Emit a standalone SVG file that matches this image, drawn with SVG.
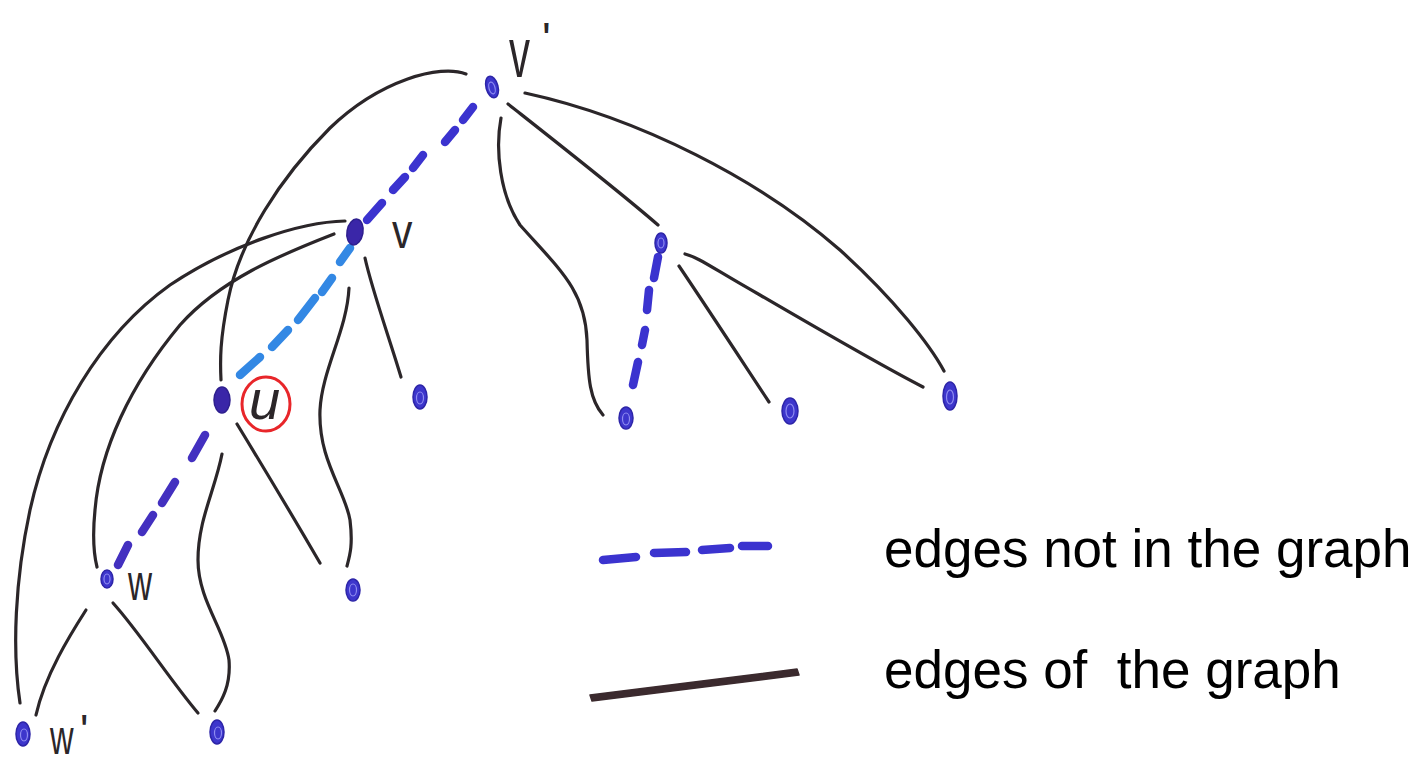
<svg xmlns="http://www.w3.org/2000/svg" width="1421" height="763" viewBox="0 0 1421 763">
<style>
.edge{fill:none;stroke:#2b2629;stroke-width:3.2;stroke-linecap:round;stroke-linejoin:round}
.dash{fill:none;stroke-width:8.5;stroke-linecap:round}
.dv{stroke:#3b33cf}
.dl{stroke:#3388e4}
.dp{stroke:#4330c0}
.node{fill:#3d36cc;stroke:#2d25a8;stroke-width:1.5}
.dark{fill:#3a26a8;stroke:#2e1f8e;stroke-width:1.5}
.ring{fill:none;stroke:#8f8cf0;stroke-width:1.2}
.lbl{fill:#2b2629;font-family:"Liberation Sans",Arial,sans-serif}
.legend{fill:#000;font-family:"Liberation Sans",Arial,sans-serif;font-size:53px;white-space:pre}
</style>
<rect width="1421" height="763" fill="#ffffff"/>

<g id="connectors">
  <!-- solid edges (edges of the graph) -->
  <path class="edge" d="M466,74 C440,64 380,80 330,128 C280,178 240,240 228,300 C220,340 220,360 221,380"/>
  <path class="edge" d="M525,93 C640,118 760,180 840,250 C895,300 930,345 944,371"/>
  <path class="edge" d="M508,104 C560,145 620,192 658,225"/>
  <path class="edge" d="M501,118 C495,150 500,195 520,225 C560,270 585,290 587,340 C588,380 590,400 603,415"/>
  <path class="edge" d="M345,221 C300,222 230,245 170,285 C100,335 50,420 30,510 C15,580 12,650 20,703"/>
  <path class="edge" d="M334,234 C280,255 220,280 180,325 C130,385 100,450 95,510 C92,540 94,555 97,567"/>
  <path class="edge" d="M349,288 C347,330 322,370 320,410 C318,460 345,490 350,520 C353,545 350,555 347,566"/>
  <path class="edge" d="M365,258 C372,290 390,340 401,377"/>
  <path class="edge" d="M237,424 C262,465 295,520 320,563"/>
  <path class="edge" d="M222,454 C215,490 198,520 198,560 C198,600 225,630 229,660 C231,685 222,700 215,711"/>
  <path class="edge" d="M86,610 C70,635 45,675 36,715"/>
  <path class="edge" d="M113,603 C140,633 170,680 198,713"/>
  <path class="edge" d="M685,254 C700,258 712,268 760,295 C820,330 880,365 923,387"/>
  <path class="edge" d="M679,266 C710,312 740,358 769,402"/>
  <!-- dashed edges (edges not in the graph) -->
  <path class="dash dv" d="M473,107 L463,120 M455,130 L445,142 M423,155 L413,168 M405,177 L393,190 M382,203 L367,220"/>
  <path class="dash dl" d="M350,248 L340,262 M332,278 L322,292 M315,298 L298,320 M288,330 L272,347 M260,357 L240,375"/>
  <path class="dash dp" d="M205,435 L192,458 M175,482 L162,503 M153,515 L142,532 M128,545 L118,565"/>
  <path class="dash dv" d="M658,257 L654,278 M649,290 L647,310 M645,330 L642,345 M638,362 L633,385"/>
</g>

<g id="node-v-prime">
  <ellipse class="node" cx="492" cy="87" rx="6" ry="11" transform="rotate(-15 492 87)"/>
  <ellipse class="ring" cx="492" cy="88" rx="3" ry="6" transform="rotate(-15 492 88)"/>
  <text class="lbl" font-size="70" transform="translate(509 77) scale(0.6 1)">v</text>
  <text class="lbl" font-size="46" x="542" y="55">'</text>
</g>
<g id="node-v">
  <ellipse class="dark" cx="355" cy="232" rx="8" ry="13" transform="rotate(10 355 232)"/>
  <text class="lbl" font-size="48" transform="translate(392 248) scale(0.85 1)">v</text>
</g>
<g id="node-u">
  <ellipse class="dark" cx="222" cy="400" rx="8" ry="13"/>
  <ellipse cx="266" cy="404" rx="24" ry="27" fill="none" stroke="#e8262a" stroke-width="3"/>
  <text class="lbl" font-family="Liberation Serif" font-style="italic" font-size="56" x="249" y="419">u</text>
</g>
<g id="node-w">
  <ellipse class="node" cx="107" cy="579" rx="6" ry="9"/>
  <ellipse class="ring" cx="107" cy="579" rx="3" ry="5"/>
  <text class="lbl" font-size="52" transform="translate(128 600) scale(0.64 1)">w</text>
</g>
<g id="node-w-prime">
  <ellipse class="node" cx="23" cy="734" rx="7" ry="12"/>
  <ellipse class="ring" cx="24" cy="735" rx="3.5" ry="6"/>
  <text class="lbl" font-size="48" transform="translate(50 754) scale(0.68 1)">w</text>
  <text class="lbl" font-size="44" x="80" y="746">'</text>
</g>
<g id="leaf-u-1">
  <ellipse class="node" cx="217" cy="732" rx="7" ry="12"/>
  <ellipse class="ring" cx="218" cy="733" rx="3.5" ry="6"/>
</g>
<g id="leaf-v-1">
  <ellipse class="node" cx="353" cy="590" rx="7" ry="11"/>
  <ellipse class="ring" cx="353" cy="590" rx="3.5" ry="6"/>
</g>
<g id="leaf-v-2">
  <ellipse class="node" cx="420" cy="397" rx="7" ry="12"/>
  <ellipse class="ring" cx="420" cy="398" rx="3.5" ry="6"/>
</g>
<g id="node-c">
  <ellipse class="node" cx="661" cy="243" rx="6" ry="10"/>
  <ellipse class="ring" cx="661" cy="243" rx="3" ry="5"/>
</g>
<g id="leaf-c-1">
  <ellipse class="node" cx="626" cy="418" rx="7" ry="11"/>
  <ellipse class="ring" cx="626" cy="419" rx="3.5" ry="6"/>
</g>
<g id="leaf-c-2">
  <ellipse class="node" cx="790" cy="411" rx="8" ry="13"/>
  <ellipse class="ring" cx="790" cy="411" rx="4" ry="7"/>
</g>
<g id="leaf-c-3">
  <ellipse class="node" cx="950" cy="396" rx="7" ry="14"/>
  <ellipse class="ring" cx="950" cy="397" rx="3.5" ry="7"/>
</g>

<g id="legend">
  <path class="dash dv" d="M603,560 L636,557 M654,553 L686,552 M702,550 L730,548 M742,546 L768,546"/>
  <text class="legend" x="884" y="567">edges not in the graph</text>
  <path d="M590,695 L797,669 L799,675 L592,701 Z" fill="#3b2a2e" stroke="#3b2a2e" stroke-width="1.5" stroke-linejoin="round"/>
  <text class="legend" x="884" y="688">edges of  the graph</text>
</g>
</svg>
